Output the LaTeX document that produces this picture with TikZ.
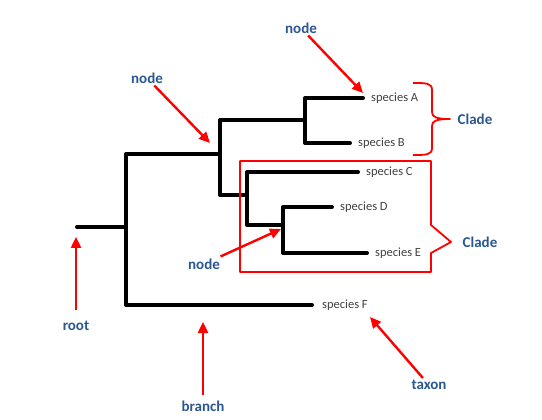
\documentclass[tikz,border=0pt]{standalone}
\usepackage{fontspec}
\setmainfont{Carlito}
\usetikzlibrary{arrows.meta}
\definecolor{labelblue}{RGB}{43,87,145}
\definecolor{taxgray}{RGB}{64,64,64}
\tikzset{
  tree/.style={line width=4pt, line cap=round, line join=round},
  pointer/.style={red, line width=2.4pt, -{Triangle[length=11pt,width=10pt]}},
  redline/.style={red, line width=1.8pt, line join=round},
  term/.style={font=\bfseries\fontsize{15}{18}\selectfont, text=labelblue, inner sep=2pt},
  taxon/.style={anchor=west, inner xsep=8pt, inner ysep=1pt, text=taxgray, font=\fontsize{12.5}{14}\selectfont},
}
\begin{document}
\begin{tikzpicture}[x=1pt, y=-1pt]
	\useasboundingbox (0,0) rectangle (542,420);
	% taxa
	\node[taxon] (spA) at (363,98) {species A};
	\node[taxon] (spB) at (350,143) {species B};
	\node[taxon] (spC) at (358,172) {species C};
	\node[taxon] (spD) at (332,207) {species D};
	\node[taxon] (spE) at (367,253) {species E};
	\node[taxon, inner xsep=10pt] (spF) at (312,305) {species F};
	% internal nodes of the tree
	\coordinate (root) at (77,227);
	\coordinate (n1) at (126,227);
	\coordinate (n2) at (220,154);
	\coordinate (n3) at (305,120);
	\coordinate (n4) at (247,195);
	\coordinate (n5) at (283,225);
	\draw[tree] (root) -- (n1);
	\draw[tree] (n1) |- (n2) (n1) |- (spF.west);
	\draw[tree] (n2) |- (n3) (n2) |- (n4);
	\draw[tree] (n3) |- (spA.west) (n3) |- (spB.west);
	\draw[tree] (n4) |- (spC.west) (n4) |- (n5);
	\draw[tree] (n5) |- (spD.west) (n5) |- (spE.west);
	% clades
	\draw[redline] (413,83) .. controls (426,83) and (432,83) .. (432,90) -- (432,112)
		.. controls (432,117) and (436,119) .. (450,119)
		.. controls (436,119) and (432,121) .. (432,126) -- (432,148)
		.. controls (432,155) and (426,155) .. (413,155);
	\draw[redline] (240,161) -- (431,161) -- (431,225) -- (451,242) -- (431,253)
		-- (431,272) -- (240,272) -- cycle;
	\node[term] (cladeUp) at (475,119) {Clade};
	\node[term] (cladeLow) at (480,242) {Clade};
	% labels and pointers
	\node[term] (lblTop) at (301,28) {node};
	\node[term] (lblMid) at (147,78) {node};
	\node[term] (lblLow) at (204,264) {node};
	\node[term] (lblRoot) at (76,326) {root};
	\node[term] (lblBranch) at (203,406) {branch};
	\node[term] (lblTaxon) at (429,385) {taxon};
	\coordinate (tipTop) at (363,93);
	\coordinate (tipMid) at (210,143);
	\coordinate (tipLow) at (281,229);
	\coordinate (tipRoot) at (76,237);
	\coordinate (tipBranch) at (203,322);
	\coordinate (tipTaxon) at (370,317);
	\draw[pointer] (lblTop) -- (tipTop);
	\draw[pointer] (lblMid) -- (tipMid);
	\draw[pointer] (lblLow) -- (tipLow);
	\draw[pointer, shorten <=9pt] (lblRoot) -- (tipRoot);
	\draw[pointer, shorten <=3pt] (lblBranch) -- (tipBranch);
	\draw[pointer] (lblTaxon) -- (tipTaxon);
\end{tikzpicture}
\end{document}
